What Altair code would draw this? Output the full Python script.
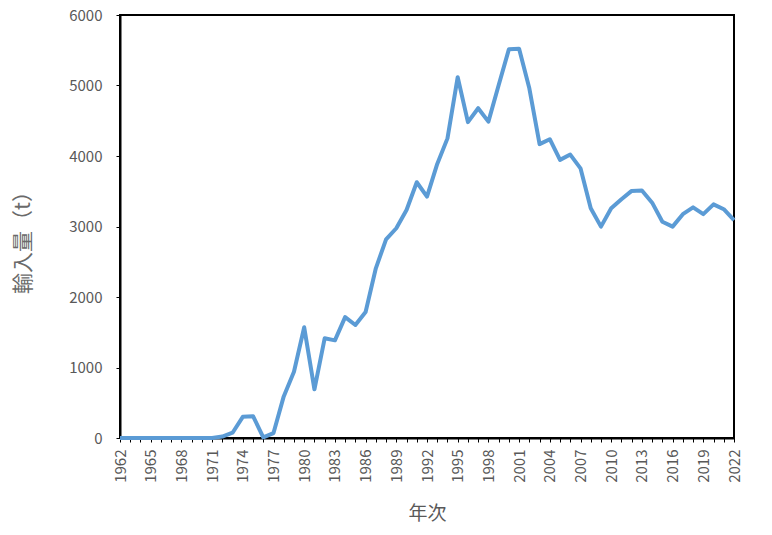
import altair as alt
import pandas as pd

years = list(range(1962, 2023))
imports = [
    0, 0, 0, 0, 0, 0, 0, 0, 0, 0,          # 1962-1971
    20, 75, 300, 310, 10, 70, 590, 940, 1570, 690,   # 1972-1981
    1414, 1385, 1715, 1603, 1787, 2407, 2818, 2975, 3235, 3628,  # 1982-1991
    3423, 3887, 4250, 5118, 4480, 4678, 4488, 5003, 5513, 5522,  # 1992-2001
    4960, 4168, 4238, 3945, 4020, 3825, 3260, 2998, 3258, 3387,  # 2002-2011
    3505, 3510, 3338, 3068, 2998, 3175, 3272, 3175, 3314, 3245,  # 2012-2021
    3092,                                                         # 2022
]
y_ticks = [0, 1000, 2000, 3000, 4000, 5000, 6000]

df = pd.DataFrame({"year": years, "value": imports})

FONT = "Noto Sans CJK JP"
GRAY = "#595959"

chart = (
    alt.Chart(df)
    .mark_line(color="#5B9BD5", strokeWidth=4, strokeJoin="round")
    .encode(
        x=alt.X(
            "year:Q",
            scale=alt.Scale(domain=[1962, 2022], nice=False, zero=False),
            axis=alt.Axis(
                title="年次",
                values=years,
                labelExpr="(datum.value - 1962) % 3 == 0 ? format(datum.value, 'd') : ''",
                labelAngle=270,
                labelPadding=7,
                labelOverlap=False,
                labelFlush=False,
                grid=False,
                tickSize=4,
                titleY=75,
                titleFontSize=19,
                titleBaseline="middle",
            ),
        ),
        y=alt.Y(
            "value:Q",
            scale=alt.Scale(domain=[0, 6000], nice=False),
            axis=alt.Axis(
                title="輸入量（t）",
                values=y_ticks,
                format="d",
                grid=False,
                tickSize=4,
                labelPadding=14,
                titleAngle=270,
                titleX=-97,
                titleY=222,
                titleFontSize=21,
                titleColor="#6a6a6a",
                titleAlign="center",
                titleBaseline="middle",
            ),
        ),
    )
    .properties(
        width=614,
        height=423,
        autosize=alt.AutoSizeParams(type="none"),
        padding={"left": 112, "top": 7, "right": 30, "bottom": 90},
    )
    .configure(
        background="white",
        view=alt.ViewConfig(stroke="black", strokeWidth=2),
        axis=alt.AxisConfig(
            domainColor="black",
            domainWidth=2,
            tickColor="black",
            tickWidth=1,
            labelFont=FONT,
            labelFontSize=15,
            labelColor=GRAY,
            titleFont=FONT,
            titleFontWeight="normal",
            titleColor=GRAY,
        ),
    )
)

chart.save("out.html", embed_options={"renderer": "svg", "actions": False})
